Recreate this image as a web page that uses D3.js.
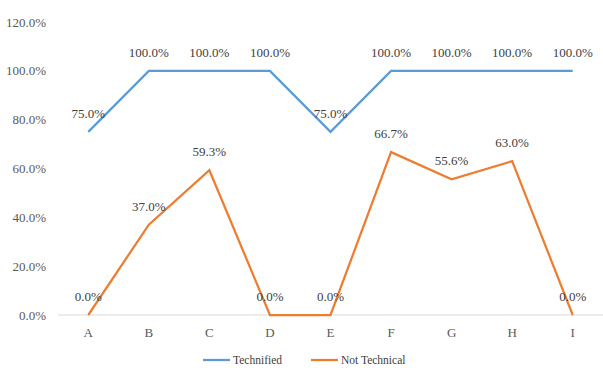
<!DOCTYPE html>
<html>
<head>
<meta charset="utf-8">
<script src="https://cdn.jsdelivr.net/npm/d3@7"></script>
<style>
  body { margin: 0; background: #fff; }
</style>
</head>
<body>
<svg id="chart" width="603" height="368"></svg>
<script>
// categories and series
var categories = ["A", "B", "C", "D", "E", "F", "G", "H", "I"];
var technified = [75.0, 100.0, 100.0, 100.0, 75.0, 100.0, 100.0, 100.0, 100.0];
var notTechnical = [0.0, 37.0, 59.3, 0.0, 0.0, 66.7, 55.6, 63.0, 0.0];
var yTicks = [0, 20, 40, 60, 80, 100, 120];

var series = [
  {name: "Technified", values: technified, color: "#5B9BD5"},
  {name: "Not Technical", values: notTechnical, color: "#ED7D31"}
];

var FONT = "'Liberation Serif', 'Times New Roman', 'DejaVu Serif', serif";

var svg = d3.select("#chart")
  .attr("font-family", FONT)
  .attr("font-size", 13);
var margin = {left: 58, right: 0, top: 22, bottom: 53};
var width = 603, height = 368;

var x = d3.scaleBand()
  .domain(categories)
  .range([margin.left, width - margin.right]);

var y = d3.scaleLinear()
  .domain([0, 120])
  .range([height - margin.bottom, margin.top]);

// y axis labels (no gridlines)
svg.append("g")
  .selectAll("text")
  .data(yTicks)
  .enter()
  .append("text")
  .attr("x", 46)
  .attr("y", function(d) { return y(d); })
  .attr("dy", "0.35em")
  .attr("text-anchor", "end")
  .attr("fill", "#595959")
  .text(function(d) { return d.toFixed(1) + "%"; });

// baseline
svg.append("line")
  .attr("x1", margin.left)
  .attr("x2", width - margin.right)
  .attr("y1", y(0))
  .attr("y2", y(0))
  .attr("stroke", "#d9d9d9")
  .attr("stroke-width", 1);

// category labels
svg.append("g")
  .selectAll("text")
  .data(categories)
  .enter()
  .append("text")
  .attr("x", function(d) { return x(d) + x.bandwidth() / 2; })
  .attr("y", y(0) + 22)
  .attr("text-anchor", "middle")
  .attr("fill", "#595959")
  .text(function(d) { return d; });

var line = d3.line()
  .x(function(d, i) { return x(categories[i]) + x.bandwidth() / 2; })
  .y(function(d) { return y(d); });

series.forEach(function(s) {
  svg.append("path")
    .datum(s.values)
    .attr("fill", "none")
    .attr("stroke", s.color)
    .attr("stroke-width", 2.25)
    .attr("d", line);
});

// data labels
series.forEach(function(s) {
  svg.append("g")
    .selectAll("text")
    .data(s.values)
    .enter()
    .append("text")
    .attr("x", function(d, i) { return x(categories[i]) + x.bandwidth() / 2; })
    .attr("y", function(d) { return y(d) - 14; })
    .attr("text-anchor", "middle")
    .attr("fill", "#404040")
    .text(function(d) { return d.toFixed(1) + "%"; });
});

// legend
var legend = svg.append("g");
var legendX = [203, 311];
series.forEach(function(s, i) {
  var lg = legend.append("g").attr("transform", "translate(" + legendX[i] + ",360)");
  lg.append("line")
    .attr("x1", 0).attr("x2", 27)
    .attr("y1", 0).attr("y2", 0)
    .attr("stroke", s.color)
    .attr("stroke-width", 2.25);
  lg.append("text")
    .attr("x", 30)
    .attr("dy", "0.35em")
    .attr("font-size", 11.5)
    .attr("fill", "#404040")
    .text(s.name);
});
</script>
</body>
</html>
